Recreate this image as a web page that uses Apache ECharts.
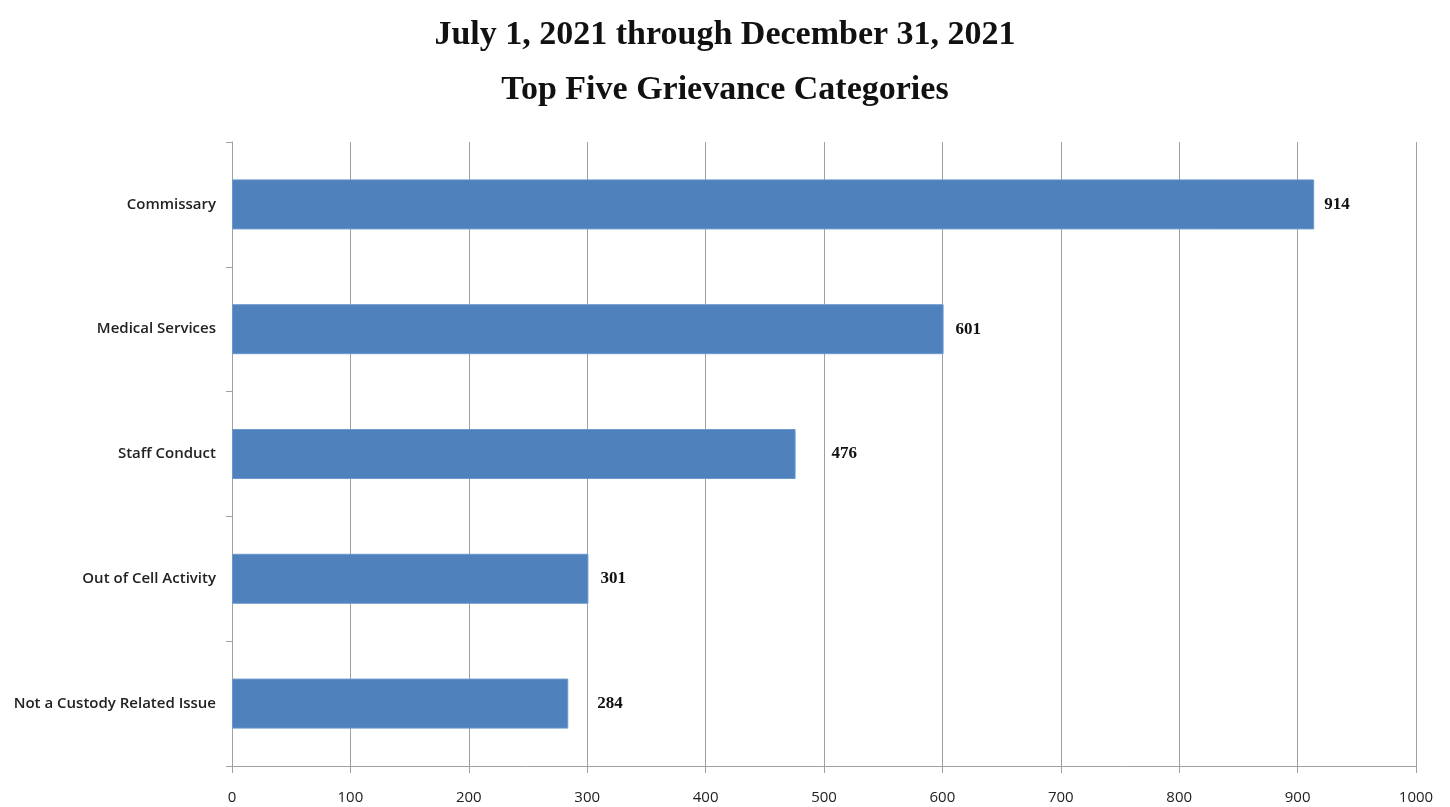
<!DOCTYPE html>
<html>
<head>
<meta charset="utf-8">
<script src="https://cdn.jsdelivr.net/npm/echarts@6/dist/echarts.min.js"></script>
<style>
  html, body { margin: 0; padding: 0; background: #ffffff; }
  #chart { width: 1450px; height: 807px; }
</style>
</head>
<body>
<div id="chart"></div>
<script>
// Grievance categories, listed bottom to top as the category axis draws them
const categories = [
  'Not a Custody Related Issue',
  'Out of Cell Activity',
  'Staff Conduct',
  'Medical Services',
  'Commissary'
];
const grievanceCounts = [284, 301, 476, 601, 914];
const xTicks = [0, 100, 200, 300, 400, 500, 600, 700, 800, 900, 1000];
const titleLines = ['July 1, 2021 through December 31, 2021', 'Top Five Grievance Categories'];

// gap between each bar end and its value label
const labelGaps = [29, 12, 36, 12, 10];

const chart = echarts.init(document.getElementById('chart'));

const gridColor = '#a0a0a0';

chart.setOption({
  animation: false,
  backgroundColor: '#ffffff',
  title: {
    text: titleLines.join('\n'),
    left: 'center',
    top: 3,
    textStyle: {
      fontFamily: 'Liberation Serif',
      fontWeight: 'bold',
      fontSize: 34,
      lineHeight: 55,
      color: '#111111'
    }
  },
  grid: { left: 232, right: 34, top: 142, bottom: 41, containLabel: false },
  xAxis: {
    type: 'value',
    min: xTicks[0],
    max: xTicks[xTicks.length - 1],
    interval: xTicks[1] - xTicks[0],
    axisLine: { show: true, lineStyle: { color: gridColor, width: 1 } },
    axisTick: { show: true, length: 7, lineStyle: { color: gridColor } },
    splitLine: { show: true, lineStyle: { color: gridColor, width: 1 } },
    axisLabel: {
      margin: 24,
      fontFamily: 'Open Sans',
      fontSize: 15,
      color: '#222222',
      formatter: (v) => String(v)
    }
  },
  yAxis: {
    type: 'category',
    data: categories,
    axisLine: { show: true, lineStyle: { color: gridColor, width: 1 } },
    axisTick: { show: true, length: 6, inside: false, lineStyle: { color: gridColor } },
    splitLine: { show: false },
    axisLabel: {
      margin: 16,
      fontFamily: 'Open Sans',
      fontWeight: 600,
      fontSize: 15,
      color: '#222222'
    }
  },
  series: [{
    type: 'bar',
    barWidth: 50,
    data: grievanceCounts.map((v, i) => ({
      value: v,
      label: { distance: labelGaps[i] }
    })),
    itemStyle: { color: '#4f81bd', borderColor: '#6c98cc', borderWidth: 1 },
    label: {
      show: true,
      position: 'right',
      fontFamily: 'Liberation Serif',
      fontWeight: 'bold',
      fontSize: 17,
      color: '#111111'
    }
  }]
});
</script>
</body>
</html>
